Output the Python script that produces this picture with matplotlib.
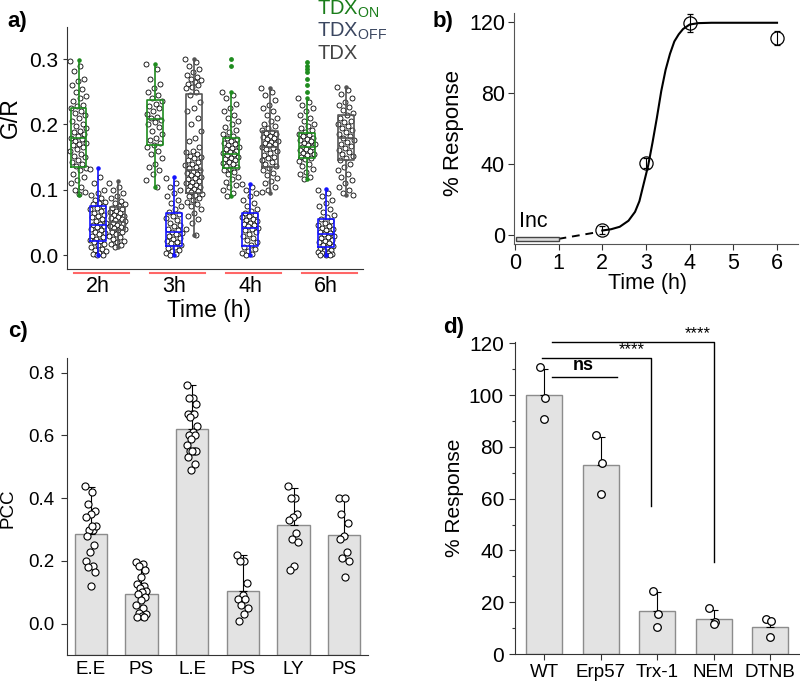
import matplotlib
matplotlib.use("Agg")
import matplotlib.pyplot as plt
import matplotlib.patches as mpatches
import numpy as np

plt.rcParams['font.family'] = ['Liberation Sans', 'DejaVu Sans']
plt.rcParams['mathtext.fontset'] = 'custom'
plt.rcParams['mathtext.rm'] = 'Liberation Sans'
plt.rcParams['mathtext.it'] = 'Liberation Sans:italic'
plt.rcParams['mathtext.bf'] = 'Liberation Sans:bold'

# ---------------- panel a: G/R per cell ----------------
times_a = ['2h', '3h', '4h', '6h']
on_pts = [
    [0.297, 0.29, 0.282, 0.27, 0.266, 0.26, 0.254, 0.25, 0.244, 0.24, 0.236, 0.23, 0.228, 0.225, 0.221, 0.218,
     0.214, 0.21, 0.205, 0.2, 0.198, 0.195, 0.19, 0.188, 0.185, 0.182, 0.18, 0.178, 0.175, 0.172, 0.17, 0.168,
     0.165, 0.162, 0.16, 0.155, 0.152, 0.15, 0.146, 0.142, 0.14, 0.136, 0.133, 0.13, 0.125, 0.12, 0.115, 0.11,
     0.105, 0.1, 0.096, 0.093],
    [0.293, 0.285, 0.27, 0.262, 0.255, 0.25, 0.245, 0.24, 0.236, 0.232, 0.228, 0.225, 0.22, 0.216, 0.212, 0.21,
     0.207, 0.204, 0.2, 0.196, 0.19, 0.185, 0.18, 0.176, 0.172, 0.169, 0.165, 0.16, 0.155, 0.148, 0.14, 0.135,
     0.13, 0.125, 0.115, 0.104],
    [0.25, 0.245, 0.24, 0.232, 0.225, 0.22, 0.215, 0.21, 0.205, 0.2, 0.196, 0.192, 0.188, 0.185, 0.182, 0.18,
     0.177, 0.175, 0.172, 0.17, 0.168, 0.166, 0.164, 0.162, 0.16, 0.158, 0.156, 0.155, 0.153, 0.151, 0.149,
     0.147, 0.145, 0.143, 0.141, 0.139, 0.137, 0.135, 0.132, 0.13, 0.127, 0.124, 0.12, 0.116, 0.112, 0.108,
     0.104, 0.1, 0.095, 0.09],
    [0.24, 0.235, 0.23, 0.225, 0.22, 0.215, 0.21, 0.205, 0.2, 0.197, 0.194, 0.191, 0.188, 0.186, 0.184, 0.182,
     0.18, 0.178, 0.176, 0.174, 0.172, 0.17, 0.168, 0.166, 0.165, 0.163, 0.161, 0.159, 0.157, 0.155, 0.153,
     0.151, 0.149, 0.147, 0.144, 0.14, 0.136, 0.132, 0.128, 0.124, 0.12, 0.116],
]
off_pts = [
    [0.132, 0.12, 0.11, 0.1, 0.095, 0.092, 0.088, 0.085, 0.082, 0.08, 0.078, 0.075, 0.073, 0.07, 0.068, 0.065,
     0.062, 0.06, 0.058, 0.055, 0.052, 0.05, 0.048, 0.046, 0.045, 0.043, 0.04, 0.038, 0.036, 0.034, 0.032, 0.03,
     0.028, 0.025, 0.023, 0.022, 0.02, 0.017, 0.015, 0.012, 0.01, 0.008, 0.006, 0.004, 0.002, 0.001, 0.0],
    [0.118, 0.11, 0.105, 0.1, 0.095, 0.09, 0.085, 0.08, 0.075, 0.07, 0.066, 0.063, 0.06, 0.057, 0.054, 0.05,
     0.047, 0.044, 0.04, 0.038, 0.036, 0.034, 0.032, 0.03, 0.027, 0.025, 0.022, 0.02, 0.018, 0.015, 0.013,
     0.011, 0.008, 0.006, 0.004, 0.002, 0.0],
    [0.109, 0.105, 0.1, 0.095, 0.09, 0.085, 0.08, 0.075, 0.07, 0.067, 0.064, 0.062, 0.06, 0.058, 0.056, 0.054,
     0.052, 0.05, 0.048, 0.046, 0.044, 0.042, 0.04, 0.038, 0.035, 0.032, 0.03, 0.027, 0.024, 0.02, 0.016,
     0.013, 0.01, 0.007, 0.004, 0.002, 0.0],
    [0.1, 0.095, 0.09, 0.085, 0.08, 0.075, 0.07, 0.066, 0.062, 0.058, 0.055, 0.052, 0.05, 0.047, 0.044, 0.042,
     0.04, 0.038, 0.036, 0.034, 0.032, 0.03, 0.028, 0.026, 0.024, 0.022, 0.02, 0.018, 0.016, 0.014, 0.012,
     0.01, 0.008, 0.006, 0.005, 0.004, 0.003, 0.002, 0.001, 0.0, 0.0],
]
tdx_pts = [
    [0.111, 0.105, 0.1, 0.095, 0.09, 0.087, 0.083, 0.08, 0.078, 0.075, 0.072, 0.07, 0.068, 0.066, 0.064, 0.062,
     0.06, 0.058, 0.057, 0.055, 0.054, 0.052, 0.05, 0.049, 0.048, 0.046, 0.045, 0.043, 0.042, 0.04, 0.038,
     0.036, 0.035, 0.033, 0.03, 0.028, 0.025, 0.022, 0.02, 0.017, 0.015, 0.013],
    [0.3, 0.295, 0.29, 0.285, 0.28, 0.275, 0.272, 0.27, 0.268, 0.265, 0.262, 0.26, 0.258, 0.255, 0.25, 0.245,
     0.235, 0.225, 0.22, 0.21, 0.2, 0.19, 0.18, 0.175, 0.165, 0.16, 0.158, 0.155, 0.152, 0.15, 0.148, 0.145,
     0.142, 0.14, 0.138, 0.135, 0.133, 0.13, 0.128, 0.126, 0.124, 0.122, 0.12, 0.118, 0.116, 0.114, 0.112,
     0.11, 0.108, 0.106, 0.104, 0.102, 0.1, 0.098, 0.096, 0.094, 0.092, 0.09, 0.088, 0.085, 0.082, 0.078,
     0.075, 0.07, 0.065, 0.06, 0.055, 0.05, 0.04, 0.031],
    [0.255, 0.25, 0.245, 0.238, 0.23, 0.225, 0.22, 0.215, 0.21, 0.205, 0.2, 0.197, 0.194, 0.191, 0.189, 0.187,
     0.185, 0.183, 0.181, 0.179, 0.177, 0.175, 0.173, 0.171, 0.17, 0.168, 0.166, 0.164, 0.162, 0.16, 0.157,
     0.154, 0.151, 0.148, 0.145, 0.142, 0.139, 0.136, 0.134, 0.13, 0.126, 0.122, 0.118, 0.114, 0.11, 0.105,
     0.1, 0.096],
    [0.257, 0.252, 0.247, 0.24, 0.235, 0.23, 0.226, 0.222, 0.218, 0.214, 0.21, 0.206, 0.203, 0.2, 0.197, 0.194,
     0.191, 0.188, 0.185, 0.182, 0.179, 0.176, 0.173, 0.17, 0.167, 0.164, 0.161, 0.158, 0.155, 0.152, 0.148,
     0.145, 0.14, 0.135, 0.13, 0.125, 0.12, 0.115, 0.11, 0.105, 0.1, 0.095, 0.092],
]
on_outliers = [[], [], [0.29, 0.30], [0.25, 0.26, 0.27, 0.28, 0.285, 0.29, 0.295]]
# q1, median, q3, whisker low, whisker high
on_box = [[0.135, 0.179, 0.225, 0.092, 0.299], [0.169, 0.209, 0.237, 0.104, 0.293],
          [0.133, 0.155, 0.18, 0.09, 0.25], [0.148, 0.166, 0.187, 0.116, 0.24]]
off_box = [[0.022, 0.046, 0.076, 0.0, 0.133], [0.014, 0.035, 0.064, 0.0, 0.119],
           [0.014, 0.041, 0.064, 0.0, 0.109], [0.013, 0.033, 0.055, 0.0, 0.102]]
tdx_box = [[0.039, 0.051, 0.074, 0.013, 0.113], [0.095, 0.13, 0.246, 0.031, 0.3],
           [0.135, 0.166, 0.19, 0.095, 0.256], [0.145, 0.179, 0.214, 0.092, 0.257]]

# ---------------- panel b: time course ----------------
b_time = [2, 3, 4, 6]
b_resp = [2.8, 40.5, 119.5, 111]
b_err = [2, 3, 5, 4]
fit_t = [2.0, 2.2, 2.4, 2.6, 2.75, 2.85, 2.95, 3.05, 3.15, 3.25, 3.35, 3.45, 3.55, 3.65, 3.75, 3.85, 4.0,
         4.2, 4.5, 6.0]
fit_y = [2.5, 3.2, 4.6, 8, 13, 19, 29, 39, 52, 66, 81, 93, 102, 109, 113, 116, 118.5, 119.3, 119.5, 119.5]
lag_t = [1.0, 1.9]
lag_y = [-2.2, 1.6]

# ---------------- panel c: PCC ----------------
c_labels = ['E.E', 'PS', 'L.E', 'PS', 'LY', 'PS']
c_mean = [0.285, 0.095, 0.62, 0.103, 0.313, 0.282]
c_top = [0.435, 0.19, 0.76, 0.22, 0.433, 0.40]
c_pts = [
    [0.44, 0.42, 0.38, 0.36, 0.35, 0.34, 0.30, 0.30, 0.31, 0.31, 0.28, 0.25, 0.23, 0.20, 0.185, 0.18, 0.165, 0.12],
    [0.195, 0.19, 0.185, 0.17, 0.15, 0.125, 0.12, 0.115, 0.105, 0.10, 0.095, 0.085, 0.075, 0.06, 0.05, 0.035,
     0.03, 0.025, 0.02, 0.02],
    [0.76, 0.72, 0.72, 0.70, 0.67, 0.67, 0.67, 0.66, 0.63, 0.61, 0.60, 0.60, 0.59, 0.57, 0.55, 0.55, 0.55,
     0.55, 0.53, 0.51, 0.49],
    [0.22, 0.20, 0.20, 0.13, 0.09, 0.08, 0.08, 0.06, 0.05, 0.03, 0.01],
    [0.44, 0.40, 0.40, 0.35, 0.34, 0.33, 0.29, 0.27, 0.26, 0.185, 0.17],
    [0.40, 0.40, 0.35, 0.32, 0.28, 0.27, 0.23, 0.21, 0.20, 0.15],
]

# ---------------- panel d: % response ----------------
d_labels = ['WT', 'Erp57', 'Trx-1', 'NEM', 'DTNB']
d_mean = [100, 73, 16.5, 13.5, 10.5]
d_top = [110, 84, 24, 17, 13.5]
d_pts = [[111, 98.8, 90.9], [84.7, 73.8, 61.7], [24.4, 15.4, 10.5], [17.6, 12.5, 11.4], [13.6, 12.6, 6.7]]

W, H = 800, 684
fig = plt.figure(figsize=(W / 100, H / 100), dpi=100)


def px_axes(l, t, r, b):
    return fig.add_axes([l / W, 1 - b / H, (r - l) / W, (b - t) / H])


def ftext(x, y, s, **kw):
    fig.text(x / W, 1 - y / H, s, **kw)


def jitter(n, w):
    return (np.array([(i * 0.6180339) % 1.0 for i in range(n)]) - 0.5) * w


spine_c = '#333333'

# ===== a =====
ax = px_axes(67, 27, 363, 269)
green, blue, gray = '#1e8c1e', '#1414ff', '#555555'
centers = np.array([0, 3.9, 7.8, 11.7])
for k in range(4):
    for pts, dx in [(on_pts[k], -1), (off_pts[k], 0), (tdx_pts[k], 1)]:
        xs = centers[k] + dx + jitter(len(pts), 0.85)
        ax.scatter(xs, pts, s=13, facecolor='white', edgecolor='black', linewidth=0.6, zorder=2)
    if on_outliers[k]:
        ax.scatter(np.full(len(on_outliers[k]), centers[k] - 1), on_outliers[k], s=6, color=green, zorder=4)

for boxes, dx, col in [(on_box, -1, green), (off_box, 0, blue), (tdx_box, 1, gray)]:
    stats = [dict(q1=b[0], med=b[1], q3=b[2], whislo=b[3], whishi=b[4], fliers=[]) for b in boxes]
    pos = centers + dx
    ax.bxp(stats, positions=pos, widths=0.82, showcaps=False, showfliers=False, manage_ticks=False,
           boxprops=dict(color=col, lw=1.2), medianprops=dict(color=col, lw=1.2),
           whiskerprops=dict(color=col, lw=1.2), zorder=3)
    ax.scatter(pos, [b[4] for b in boxes], s=5, color=col, zorder=4)
    ax.scatter(pos, [b[3] for b in boxes], s=5, color=col, zorder=4)

ax.set_xlim(-1.59, 13.59)
ax.set_ylim(-0.021, 0.349)
ax.set_yticks([0.0, 0.1, 0.2, 0.3])
ax.set_yticklabels(['0.0', '0.1', '0.2', '0.3'])
ax.set_xticks(centers)
ax.set_xticklabels(times_a)
ax.tick_params(axis='x', length=0, pad=5, labelsize=15.5)
ax.tick_params(axis='y', length=3, width=0.8, labelsize=15, color=spine_c)
for s in ['top', 'right']:
    ax.spines[s].set_visible(False)
for s in ['left', 'bottom']:
    ax.spines[s].set_color(spine_c)
for c in centers:
    ax.plot([c - 1.25, c + 1.6], [-0.015, -0.015], color='#ff6666', lw=1.5,
            transform=ax.get_xaxis_transform(), clip_on=False)
ftext(10, 118, 'G/R', rotation=90, ha='center', va='center', fontsize=16.5)
ftext(209, 310, 'Time (h)', ha='center', va='center', fontsize=16.5)
ftext(317, 14.5, r'TDX$_{\rm ON}$', color='#1a7d1a', fontsize=14.5, va='baseline')
ftext(317, 37, r'TDX$_{\rm OFF}$', color='#3a4660', fontsize=14.5, va='baseline')
ftext(317, 59, 'TDX', color='#444444', fontsize=14.5, va='baseline')

# ===== b =====
ax = px_axes(514, 13, 798, 244)
ax.plot(fit_t, fit_y, color='black', lw=1.5, zorder=2)
ax.plot(lag_t, lag_y, color='black', lw=1.4, ls=(0, (4, 3)), zorder=2)
ax.errorbar(b_time, b_resp, yerr=b_err, fmt='o', ms=9.5, mfc='none', mec='black', mew=0.9,
            ecolor='black', elinewidth=0.8, capsize=2, zorder=3)
ax.add_patch(mpatches.Rectangle((0.03, -3.2), 0.97, 2.2, facecolor='#dcdcdc', edgecolor='#444444',
                                lw=1, clip_on=False, zorder=3))
ax.text(0.1, 7.5, 'Inc', fontsize=15.5, va='center', ha='left')
ax.set_xlim(-0.02, 6.48)
ax.set_ylim(-5.1, 125)
ax.set_xticks(range(7))
ax.set_yticks([0, 40, 80, 120])
ax.tick_params(length=4, width=0.8, labelsize=15.5, pad=2.5, color=spine_c)
for s in ['top', 'right']:
    ax.spines[s].set_visible(False)
for s in ['left', 'bottom']:
    ax.spines[s].set_color('#555555')
ftext(453, 133, '% Response', rotation=90, ha='center', va='center', fontsize=16)
ftext(647, 284, 'Time (h)', ha='center', va='center', fontsize=15.5)

# ===== c =====
ax = px_axes(67, 358, 368, 655)
xc = np.arange(len(c_labels))
base = -0.1
ax.bar(xc, np.array(c_mean) - base, bottom=base, width=0.64, color='#e3e3e3', edgecolor='#8c8c8c',
       linewidth=1, zorder=1)
ax.errorbar(xc, c_mean, yerr=[np.zeros(len(xc)), np.array(c_top) - np.array(c_mean)], fmt='none',
            ecolor='black', elinewidth=0.8, capsize=3, capthick=0.8, zorder=3)
for i, pts in enumerate(c_pts):
    ax.scatter(xc[i] + jitter(len(pts), 0.22), pts, s=26, facecolor='white', edgecolor='black',
               linewidth=0.8, zorder=4)
ax.set_xlim(-0.47, 5.47)
ax.set_ylim(-0.1, 0.847)
ax.set_yticks([0.0, 0.2, 0.4, 0.6, 0.8])
ax.set_yticklabels(['0.0', '0.2', '0.4', '0.6', '0.8'])
ax.set_xticks(xc)
ax.set_xticklabels(c_labels)
ax.tick_params(axis='x', length=0, pad=4, labelsize=13.5)
ax.tick_params(axis='y', length=4, width=0.8, pad=5, labelsize=13.5, color=spine_c)
for s in ['top', 'right']:
    ax.spines[s].set_visible(False)
for s in ['left', 'bottom']:
    ax.spines[s].set_color(spine_c)
ftext(8, 508, 'PCC', rotation=90, ha='center', va='center', fontsize=13.5)

# ===== d =====
ax = px_axes(515, 342, 800, 654)
xd = np.arange(len(d_labels))
ax.bar(xd, d_mean, width=0.64, color='#e3e3e3', edgecolor='#8c8c8c', linewidth=1, zorder=1)
ax.errorbar(xd, d_mean, yerr=[np.zeros(len(xd)), np.array(d_top) - np.array(d_mean)], fmt='none',
            ecolor='black', elinewidth=0.8, capsize=3, capthick=0.8, zorder=3)
for i, pts in enumerate(d_pts):
    ax.scatter(xd[i] + np.array([-0.08, 0.02, 0.0]), pts, s=30, facecolor='white', edgecolor='black',
               linewidth=0.9, zorder=4)
# significance brackets
ax.plot([0.13, 1.29], [106.9, 106.9], color='black', lw=1, clip_on=False)
ax.text(0.69, 108.3, 'ns', ha='center', va='bottom', fontsize=13, fontweight='bold')
ax.plot([-0.05, 1.89, 1.89], [114.2, 114.2, 57], color='black', lw=1, clip_on=False)
ax.text(1.55, 114.6, '****', ha='center', va='bottom', fontsize=12)
ax.plot([0.13, 3.0, 3.0], [120.4, 120.4, 35.5], color='black', lw=1, clip_on=False)
ax.text(2.72, 120.8, '****', ha='center', va='bottom', fontsize=12)
ax.set_xlim(-0.52, 4.53)
ax.set_ylim(0, 120.5)
ax.set_yticks(range(0, 121, 20))
ax.set_yticks(range(10, 120, 20), minor=True)
ax.set_xticks(xd)
ax.set_xticklabels(d_labels)
ax.tick_params(axis='x', length=4, width=0.8, pad=3, labelsize=13.5, color=spine_c)
ax.tick_params(axis='y', which='major', length=4, width=0.8, pad=4, labelsize=15, color=spine_c)
ax.tick_params(axis='y', which='minor', length=2.5, width=0.8, color=spine_c)
for s in ['top', 'right']:
    ax.spines[s].set_visible(False)
for s in ['left', 'bottom']:
    ax.spines[s].set_color(spine_c)
ftext(455, 498, '% Response', rotation=90, ha='center', va='center', fontsize=15)

# panel letters
for x, y, lab in [(7, 22, 'a)'), (433, 22, 'b)'), (8, 332, 'c)'), (443, 327, 'd)')]:
    ftext(x, y, lab, fontsize=16, fontweight='bold', ha='left', va='center')

fig.savefig('out.png', dpi=100)
